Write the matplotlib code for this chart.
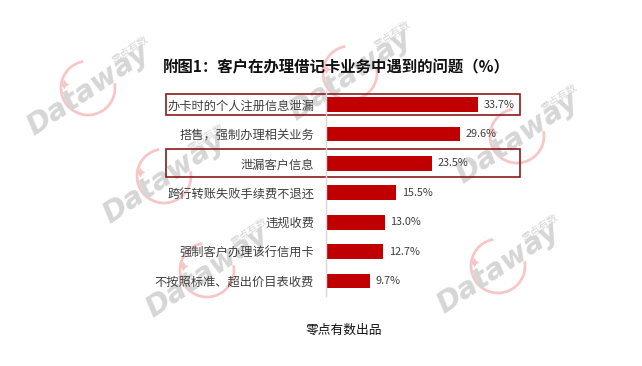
import matplotlib
matplotlib.use("Agg")
import matplotlib.pyplot as plt
import matplotlib.transforms as mtransforms
from matplotlib.patches import Arc, Rectangle

plt.rcParams["font.family"] = ["Noto Sans CJK SC", "DejaVu Sans"]

W, H = 642, 366

# data
categories = [
    "办卡时的个人注册信息泄漏",
    "搭售，强制办理相关业务",
    "泄漏客户信息",
    "跨行转账失败手续费不退还",
    "违规收费",
    "强制客户办理该行信用卡",
    "不按照标准、超出价目表收费",
]
values = [33.7, 29.6, 23.5, 15.5, 13.0, 12.7, 9.7]
highlight_rows = [0, 2]

title = "附图1：客户在办理借记卡业务中遇到的问题（%）"
footer = "零点有数出品"

BAR_COLOR = "#c00000"
BOX_COLOR = "#8b1a1a"
TEXT_COLOR = "#404040"
WM_GRAY = "#d6d6d6"
WM_PINK = "#f7c6c6"

fig = plt.figure(figsize=(W / 100, H / 100), dpi=100)
fig.patch.set_facecolor("white")

# watermark layer, pixel coords (y up)
wm = fig.add_axes([0, 0, 1, 1], zorder=0)
wm.set_xlim(0, W)
wm.set_ylim(0, H)
wm.axis("off")

# centres in image pixels (y down)
wm_centers = [(88, 90), (164, 178), (207, 272), (350, 75), (517, 138), (498, 268)]


def watermark(cx, cy):
    y = H - cy
    wm.add_patch(Arc((cx, y + 2), 54, 54, theta1=100, theta2=370,
                     color=WM_PINK, lw=2.0, zorder=1))
    wm.plot([cx - 24], [y + 6], marker=(4, 1, 0), ms=7, color=WM_PINK,
            mew=0, zorder=1)
    wm.text(cx, y, "Dataway", rotation=34, ha="center", va="center",
            fontsize=21, fontweight="bold", fontstyle="italic",
            family="DejaVu Sans", color=WM_GRAY, zorder=2)
    wm.text(cx + 42, y + 40, "零点有数", rotation=34, ha="center", va="center",
            fontsize=7.5, color=WM_GRAY, zorder=2)


for cx, cy in wm_centers:
    watermark(cx, cy)

# main bar axes
ax_left, ax_top, ax_bottom = 326, 89.8, 295.7
ax = fig.add_axes([ax_left / W, 1 - ax_bottom / H,
                   180.8 / W, (ax_bottom - ax_top) / H], zorder=1)
ax.patch.set_alpha(0)

ypos = list(range(len(categories)))
bars = ax.barh(ypos, values, height=0.5, color=BAR_COLOR)
ax.set_xlim(0, 40)
ax.set_ylim(len(categories) - 0.5, -0.5)

ax.set_yticks(ypos)
ax.set_yticklabels(categories, fontsize=8.8, color=TEXT_COLOR)
ax.tick_params(axis="y", length=0, pad=8.5)
ax.set_xticks([])
for side in ["top", "right", "bottom"]:
    ax.spines[side].set_visible(False)
ax.spines["left"].set_color("#d9d9d9")
ax.spines["left"].set_linewidth(1)

for b, v in zip(bars, values):
    ax.annotate(f"{v:.1f}%", (b.get_width(), b.get_y() + b.get_height() / 2),
                xytext=(4, 0), textcoords="offset points",
                ha="left", va="center", fontsize=7.8, color=TEXT_COLOR)

# highlight boxes around selected rows
trans = mtransforms.blended_transform_factory(fig.transFigure, ax.transData)
box_pad = {0: 0.37, 2: 0.48}
for r in highlight_rows:
    p = box_pad[r]
    ax.add_patch(Rectangle((166 / W, r - p), (520 - 166) / W, 2 * p,
                           transform=trans, fill=False, ec=BOX_COLOR,
                           lw=1.2, clip_on=False))

fig.text(336.5 / W, 1 - 67 / H, title, ha="center", va="center",
         fontsize=11.1, fontweight="bold", color="#111111")
fig.text(343.5 / W, 1 - 330 / H, footer, ha="center", va="center",
         fontsize=9.2, color="#111111")

fig.savefig("out.png", dpi=100)
